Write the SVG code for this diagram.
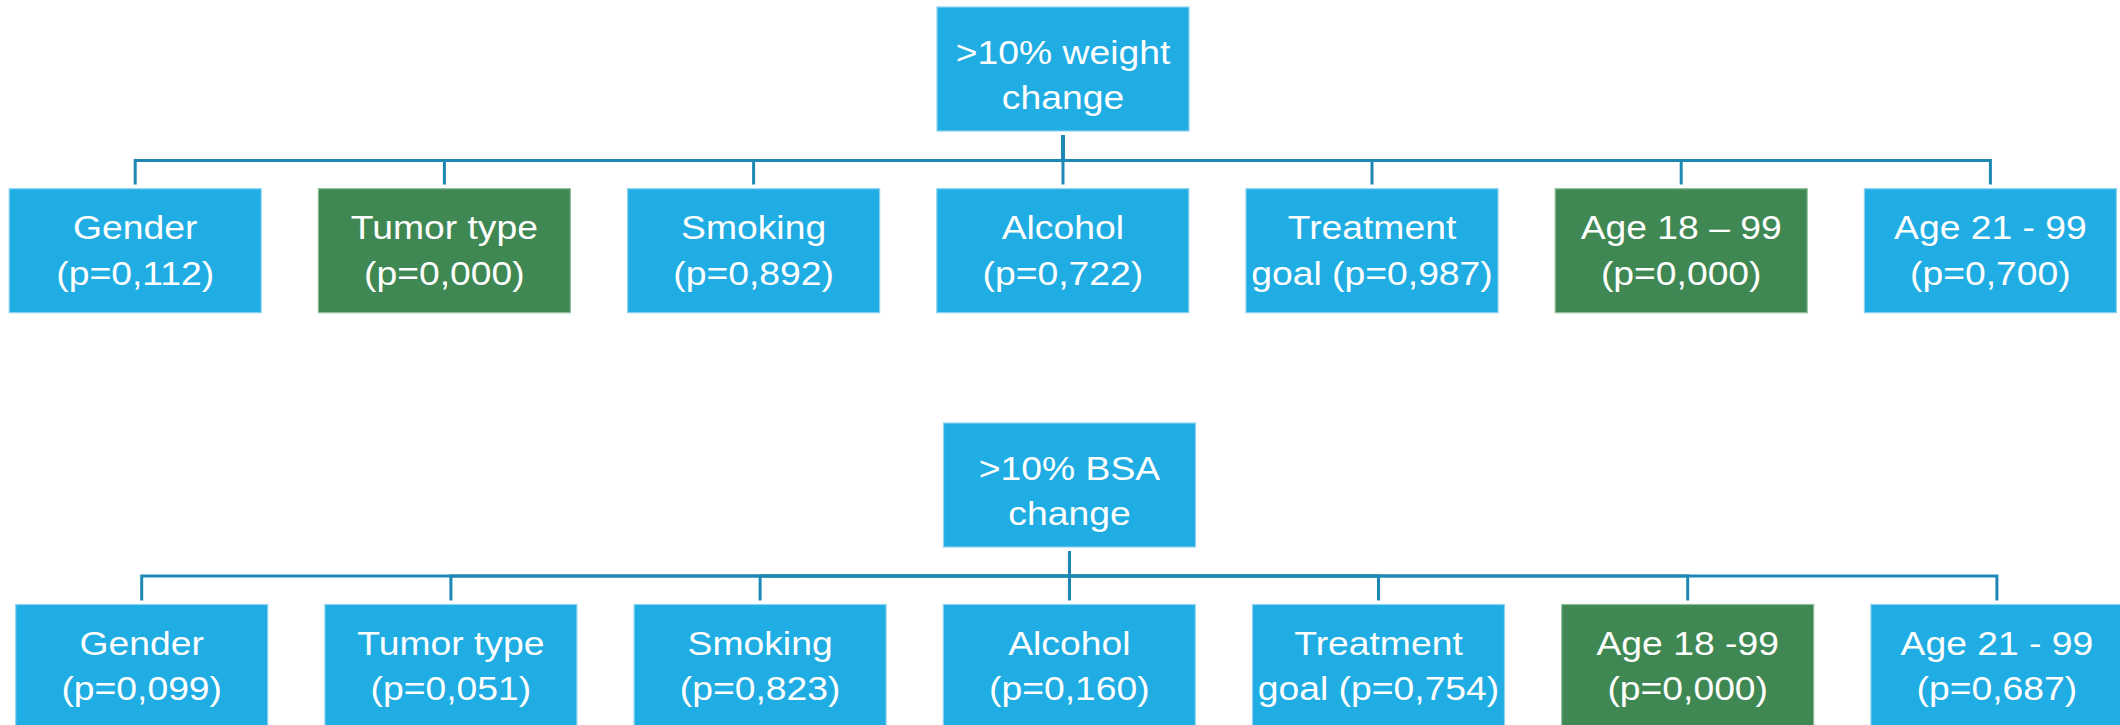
<svg xmlns="http://www.w3.org/2000/svg" width="2120" height="725" viewBox="0 0 2120 725">
<style>
  .box { fill: #1FADE3; stroke: #8DD3F0; stroke-width: 1.2; }
  .sig { fill: #3F8853; stroke: #8FBE9B; stroke-width: 1.2; }
  .lbl { font-family: "Liberation Sans", Arial, sans-serif; font-size: 33px; fill: #FFFFFF; text-anchor: middle; transform: scaleX(1.13); }
  .conn path { fill: none; stroke: #1E88B5; stroke-width: 3; }
</style>
<rect x="0" y="0" width="2120" height="725" fill="#FFFFFF"/>

<g id="connectors" class="conn">
  <path d="M1063 135 V160.5 H135.2 V184.5"/>
  <path d="M1063 135 V160.5 H444.4 V184.5"/>
  <path d="M1063 135 V160.5 H753.6 V184.5"/>
  <path d="M1063 135 V184.5"/>
  <path d="M1063 135 V160.5 H1372 V184.5"/>
  <path d="M1063 135 V160.5 H1681.2 V184.5"/>
  <path d="M1063 135 V160.5 H1990.4 V184.5"/>
  <path d="M1069.5 551 V576 H141.7 V600.5"/>
  <path d="M1069.5 551 V576 H450.9 V600.5"/>
  <path d="M1069.5 551 V576 H760.1 V600.5"/>
  <path d="M1069.5 551 V600.5"/>
  <path d="M1069.5 551 V576 H1378.5 V600.5"/>
  <path d="M1069.5 551 V576 H1687.7 V600.5"/>
  <path d="M1069.5 551 V576 H1996.9 V600.5"/>
</g>

<!-- Top tree -->
<g id="weight-root" transform="translate(1063 7)">
  <rect class="box" x="-126" y="0" width="252" height="124"/>
  <text class="lbl" x="0" y="57">&gt;10% weight</text>
  <text class="lbl" x="0" y="102.5">change</text>
</g>
<g id="w-gender" transform="translate(135.2 188.7)">
  <rect class="box" x="-126" y="0" width="252" height="124"/>
  <text class="lbl" x="0" y="50.8">Gender</text>
  <text class="lbl" x="0" y="96">(p=0,112)</text>
</g>
<g id="w-tumor" transform="translate(444.4 188.7)">
  <rect class="sig" x="-126" y="0" width="252" height="124"/>
  <text class="lbl" x="0" y="50.8">Tumor type</text>
  <text class="lbl" x="0" y="96">(p=0,000)</text>
</g>
<g id="w-smoking" transform="translate(753.6 188.7)">
  <rect class="box" x="-126" y="0" width="252" height="124"/>
  <text class="lbl" x="0" y="50.8">Smoking</text>
  <text class="lbl" x="0" y="96">(p=0,892)</text>
</g>
<g id="w-alcohol" transform="translate(1062.8 188.7)">
  <rect class="box" x="-126" y="0" width="252" height="124"/>
  <text class="lbl" x="0" y="50.8">Alcohol</text>
  <text class="lbl" x="0" y="96">(p=0,722)</text>
</g>
<g id="w-treatment" transform="translate(1372 188.7)">
  <rect class="box" x="-126" y="0" width="252" height="124"/>
  <text class="lbl" x="0" y="50.8">Treatment</text>
  <text class="lbl" x="0" y="96">goal (p=0,987)</text>
</g>
<g id="w-age18" transform="translate(1681.2 188.7)">
  <rect class="sig" x="-126" y="0" width="252" height="124"/>
  <text class="lbl" x="0" y="50.8">Age 18 – 99</text>
  <text class="lbl" x="0" y="96">(p=0,000)</text>
</g>
<g id="w-age21" transform="translate(1990.4 188.7)">
  <rect class="box" x="-126" y="0" width="252" height="124"/>
  <text class="lbl" x="0" y="50.8">Age 21 - 99</text>
  <text class="lbl" x="0" y="96">(p=0,700)</text>
</g>

<!-- Bottom tree -->
<g id="bsa-root" transform="translate(1069.5 423)">
  <rect class="box" x="-126" y="0" width="252" height="124"/>
  <text class="lbl" x="0" y="57">&gt;10% BSA</text>
  <text class="lbl" x="0" y="102.5">change</text>
</g>
<g id="b-gender" transform="translate(141.7 604.5)">
  <rect class="box" x="-126" y="0" width="252" height="124"/>
  <text class="lbl" x="0" y="50.8">Gender</text>
  <text class="lbl" x="0" y="96">(p=0,099)</text>
</g>
<g id="b-tumor" transform="translate(450.9 604.5)">
  <rect class="box" x="-126" y="0" width="252" height="124"/>
  <text class="lbl" x="0" y="50.8">Tumor type</text>
  <text class="lbl" x="0" y="96">(p=0,051)</text>
</g>
<g id="b-smoking" transform="translate(760.1 604.5)">
  <rect class="box" x="-126" y="0" width="252" height="124"/>
  <text class="lbl" x="0" y="50.8">Smoking</text>
  <text class="lbl" x="0" y="96">(p=0,823)</text>
</g>
<g id="b-alcohol" transform="translate(1069.3 604.5)">
  <rect class="box" x="-126" y="0" width="252" height="124"/>
  <text class="lbl" x="0" y="50.8">Alcohol</text>
  <text class="lbl" x="0" y="96">(p=0,160)</text>
</g>
<g id="b-treatment" transform="translate(1378.5 604.5)">
  <rect class="box" x="-126" y="0" width="252" height="124"/>
  <text class="lbl" x="0" y="50.8">Treatment</text>
  <text class="lbl" x="0" y="96">goal (p=0,754)</text>
</g>
<g id="b-age18" transform="translate(1687.7 604.5)">
  <rect class="sig" x="-126" y="0" width="252" height="124"/>
  <text class="lbl" x="0" y="50.8">Age 18 -99</text>
  <text class="lbl" x="0" y="96">(p=0,000)</text>
</g>
<g id="b-age21" transform="translate(1996.9 604.5)">
  <rect class="box" x="-126" y="0" width="252" height="124"/>
  <text class="lbl" x="0" y="50.8">Age 21 - 99</text>
  <text class="lbl" x="0" y="96">(p=0,687)</text>
</g>
</svg>
